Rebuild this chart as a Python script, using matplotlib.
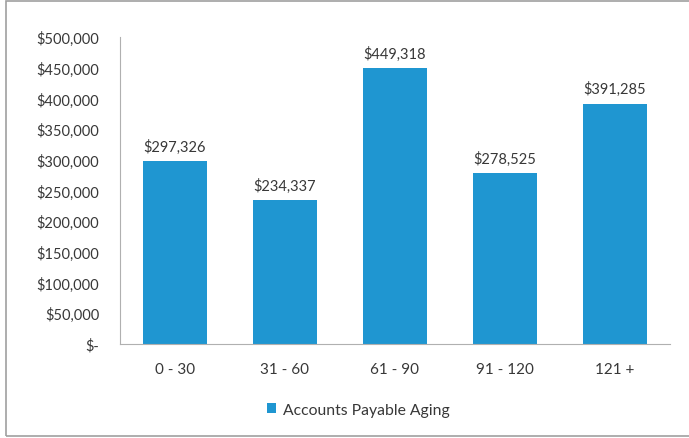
import matplotlib.pyplot as plt
from matplotlib.ticker import FuncFormatter
from matplotlib.patches import Rectangle

categories = ['0 - 30', '31 - 60', '61 - 90', '91 - 120', '121 +']
values = [297326, 234337, 449318, 278525, 391285]
series_name = 'Accounts Payable Aging'

bar_color = '#1f96d1'
text_color = '#383838'
plt.rcParams['font.family'] = ['Lato', 'DejaVu Sans']

fig = plt.figure(figsize=(6.89, 4.39), dpi=100)
ax = fig.add_axes([120/689, (439-345)/439, 550/689, (345-38)/439])

x = range(len(categories))
ax.bar(x, values, width=0.58, color=bar_color, label=series_name, zorder=2)

for i, v in zip(x, values):
    ax.text(i, v + 12000, '${:,.0f}'.format(v), ha='center', va='bottom',
            fontsize=10.5, color=text_color)

ax.set_xlim(-0.5, len(categories) - 0.5)
ax.set_ylim(0, 500000)
ax.set_yticks(range(0, 500001, 50000))
ax.yaxis.set_major_formatter(FuncFormatter(lambda v, p: '$-' if v == 0 else '${:,.0f}'.format(v)))
ax.set_xticks(list(x))
ax.set_xticklabels(categories)
ax.tick_params(axis='both', length=0, labelcolor=text_color)
ax.tick_params(axis='x', pad=13, labelsize=11)
ax.tick_params(axis='y', pad=15, labelsize=10.5)

for s in ['top', 'right']:
    ax.spines[s].set_visible(False)
ax.spines['left'].set_color('#b0b0b0')
ax.spines['bottom'].set_color('#b0b0b0')

leg = fig.legend(loc='center', bbox_to_anchor=(0.52, (439-411)/439), frameon=False,
                 handlelength=0.6, handleheight=0.6, handletextpad=0.4, fontsize=11.3)
for t in leg.get_texts():
    t.set_color(text_color)

fig.patches.append(Rectangle((6/689, 2/439), 1.0, 1 - 4/439, transform=fig.transFigure,
                             fill=False, edgecolor='#a0a0a0', linewidth=1.2, clip_on=False))

fig.savefig('out.png', dpi=100)
